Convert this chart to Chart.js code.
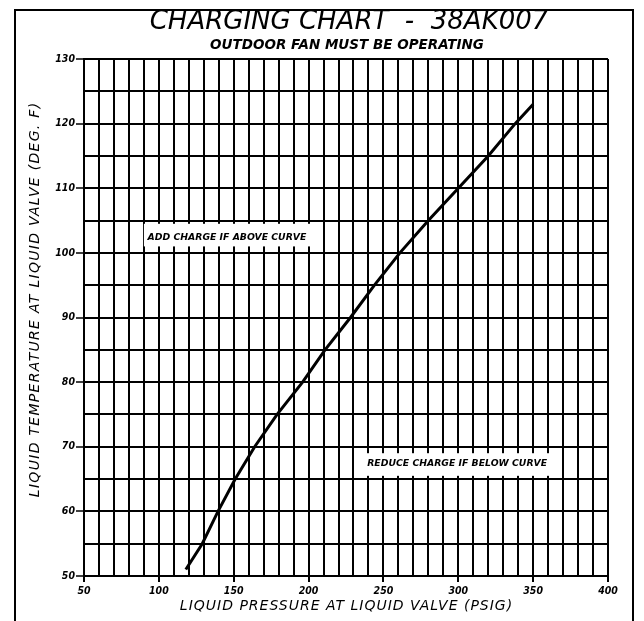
<!DOCTYPE html>
<html>
<head>
<meta charset="utf-8">
<script src="https://cdn.jsdelivr.net/npm/chart.js@4.4.1/dist/chart.umd.min.js"></script>
<style>
  html, body { margin: 0; padding: 0; background: #fff; }
  #wrap { width: 644px; height: 621px; }
</style>
</head>
<body>
<div id="wrap"><canvas id="c" width="644" height="621"></canvas></div>
<script>
// ---- data ----
const pressure = [118, 129, 139.5, 151, 164, 179, 196, 211, 228, 244, 261, 280, 300, 320, 338, 350];
const temperature = [51, 55, 60, 65, 70, 75, 80, 85, 90, 95, 100, 105, 110, 115, 120, 123];
const xTickLabels = [50, 100, 150, 200, 250, 300, 350, 400];
const yTickLabels = [50, 60, 70, 80, 90, 100, 110, 120, 130];
const titleText = 'CHARGING CHART  -  38AK007';
const subtitleText = 'OUTDOOR FAN MUST BE OPERATING';
const xTitle = 'LIQUID PRESSURE AT LIQUID VALVE (PSIG)';
const yTitle = 'LIQUID TEMPERATURE AT LIQUID VALVE (DEG. F)';
const notes = [
  { text: 'ADD CHARGE IF ABOVE CURVE', x1: 90, x2: 201, y1: 104.5, y2: 101, ty: 102.4 },
  { text: 'REDUCE CHARGE IF BELOW CURVE', x1: 237, x2: 361.5, y1: 69, y2: 65.5, ty: 67.4 }
];

const points = pressure.map((p, i) => ({ x: p, y: temperature[i] }));

function spaced(ctx, text, x, y, spacing) {
  if ('letterSpacing' in ctx) {
    ctx.letterSpacing = spacing + 'px';
    ctx.fillText(text, x + spacing / 2, y);
    ctx.letterSpacing = '0px';
  } else {
    ctx.fillText(text, x, y);
  }
}

const framePlugin = {
  id: 'frame',
  beforeDraw(chart) {
    const ctx = chart.ctx;
    ctx.save();
    ctx.fillStyle = '#fff';
    ctx.fillRect(0, 0, chart.width, chart.height);
    ctx.strokeStyle = '#000';
    ctx.lineWidth = 2;
    ctx.strokeRect(15, 10, 618, 640);
    ctx.restore();
  },
  afterDraw(chart) {
    const ctx = chart.ctx;
    const a = chart.chartArea;
    const cx = (a.left + a.right) / 2;
    ctx.save();
    ctx.fillStyle = '#000';
    ctx.textAlign = 'center';
    ctx.textBaseline = 'middle';
    ctx.font = 'italic 26px "DejaVu Sans"';
    ctx.fillText(titleText, cx + 3, 22);
    ctx.font = 'italic bold 13.5px "DejaVu Sans"';
    ctx.fillText(subtitleText, cx + 1, 45);
    // x axis title
    ctx.font = 'italic 14px "DejaVu Sans"';
    spaced(ctx, xTitle, cx, 606, 1);
    // y axis title
    ctx.translate(35, 300);
    ctx.rotate(-Math.PI / 2);
    ctx.font = 'italic 14px "DejaVu Sans"';
    spaced(ctx, yTitle, 0, 0, 1.3);
    ctx.restore();
  }
};

const notesPlugin = {
  id: 'notes',
  afterDatasetsDraw(chart) {
    const ctx = chart.ctx;
    const xs = chart.scales.x, ys = chart.scales.y;
    ctx.save();
    notes.forEach(n => {
      const l = xs.getPixelForValue(n.x1), r = xs.getPixelForValue(n.x2);
      const t = ys.getPixelForValue(n.y1), b = ys.getPixelForValue(n.y2);
      ctx.fillStyle = '#fff';
      ctx.fillRect(l, t, r - l, b - t);
      ctx.fillStyle = '#000';
      ctx.textAlign = 'center';
      ctx.textBaseline = 'middle';
      ctx.font = 'italic bold 9.3px "DejaVu Sans"';
      ctx.fillText(n.text, (l + r) / 2, ys.getPixelForValue(n.ty));
    });
    ctx.restore();
  }
};

new Chart(document.getElementById('c'), {
  type: 'line',
  data: {
    datasets: [{
      data: points,
      borderColor: '#000',
      borderWidth: 3,
      pointRadius: 0,
      tension: 0,
      fill: false
    }]
  },
  options: {
    responsive: false,
    animation: false,
    events: [],
    layout: { padding: { left: 12, right: 36, top: 59, bottom: 0 } },
    plugins: {
      legend: { display: false },
      title: { display: false },
      tooltip: { enabled: false }
    },
    scales: {
      x: {
        type: 'linear',
        min: 50, max: 400,
        afterFit(scale) { scale.height = 45; },
        border: { display: true, color: '#000', width: 2 },
        grid: {
          color: '#000',
          lineWidth: 2,
          drawTicks: true,
          tickLength: 6,
          tickColor: c => (xTickLabels.includes(c.tick && c.tick.value) ? '#000' : 'rgba(0,0,0,0)'),
          tickWidth: 2
        },
        ticks: {
          stepSize: 10,
          autoSkip: false,
          maxRotation: 0,
          padding: 3,
          color: '#000',
          font: { family: '"DejaVu Sans Condensed", "DejaVu Sans"', size: 10.5, style: 'italic', weight: 'bold' },
          callback: v => (xTickLabels.includes(v) ? String(v) : '')
        },
        title: { display: false }
      },
      y: {
        type: 'linear',
        min: 50, max: 130,
        afterFit(scale) { scale.width = 72; },
        border: { display: true, color: '#000', width: 2 },
        grid: {
          color: '#000',
          lineWidth: 2,
          drawTicks: true,
          tickLength: 8,
          tickColor: c => (yTickLabels.includes(c.tick && c.tick.value) ? '#000' : 'rgba(0,0,0,0)'),
          tickWidth: 1.5
        },
        ticks: {
          stepSize: 5,
          autoSkip: false,
          padding: 1,
          color: '#000',
          font: { family: '"DejaVu Sans Condensed", "DejaVu Sans"', size: 10.5, style: 'italic', weight: 'bold' },
          callback: v => (yTickLabels.includes(v) ? String(v) : '')
        }
      }
    }
  },
  plugins: [framePlugin, notesPlugin]
});
</script>
</body>
</html>
